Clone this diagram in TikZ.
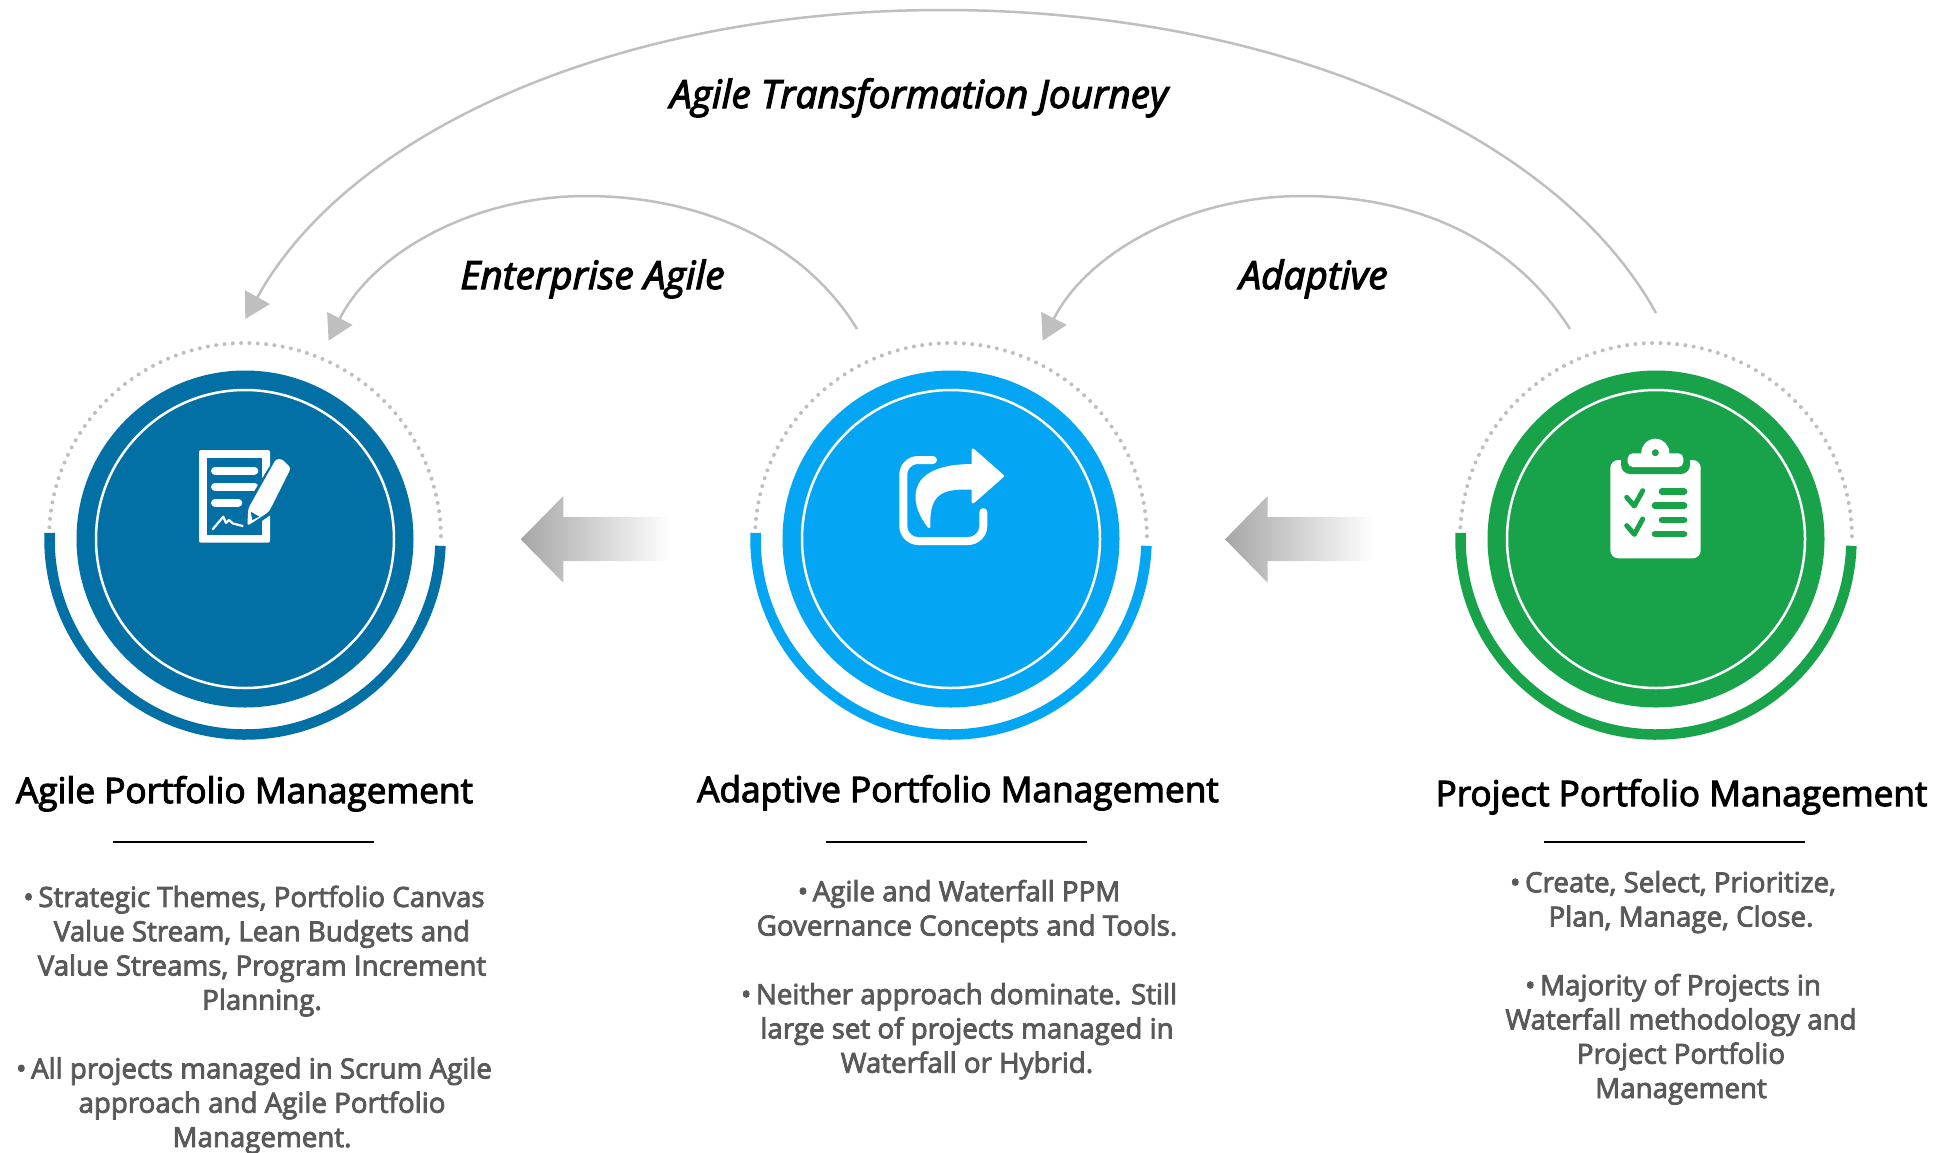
\documentclass[tikz,border=0pt]{standalone}
\usepackage{fontspec}
\usepackage{tikz}
\usetikzlibrary{positioning,arrows.meta,calc}
\newfontfamily\semifont[RawFeature={embolden=3}]{Open Sans}

\definecolor{agileblue}{HTML}{026FA5}
\definecolor{adaptblue}{HTML}{04A6F3}
\definecolor{projgreen}{HTML}{18A34B}
\definecolor{curvegray}{HTML}{BFBFBF}
\definecolor{bodygray}{HTML}{595959}

\begin{document}
\begin{tikzpicture}[
  x=1pt, y=-1pt,
  disc/.style={circle, minimum size=337pt, inner sep=0pt},
  halo/.style={circle, draw=white, line width=2.5pt, minimum size=298pt, inner sep=0pt},
  ringarc/.style={line width=10.5pt},
  dotarc/.style={curvegray, line width=4pt, line cap=round, dash pattern=on 0pt off 8.35pt},
  sweep/.style={curvegray, line width=2.5pt, -{Triangle[length=25pt,width=28pt]}},
  swlabel/.style={font=\semifont\itshape\fontsize{38.8}{44}\selectfont, inner sep=0pt, anchor=base},
  heading/.style={font=\semifont\fontsize{35.2}{40}\selectfont, inner sep=0pt, anchor=base},
  bodytext/.style={font=\semifont\fontsize{27.7}{34.3}\selectfont, text=bodygray, align=center, inner sep=0pt, anchor=base},
  rulebar/.style={fill=black, minimum width=261pt, minimum height=2pt, inner sep=0pt},
  blockarrow/.style={left color=black!35, right color=white},
  iconline/.style={white, line width=8pt, line cap=round},
  iconfill/.style={fill=white, draw=white, line join=round}
]
  \useasboundingbox (0,0) rectangle (1944,1152);

  % Discs
  \node[disc, fill=agileblue] (agile) at (245,539) {};
  \node[disc, fill=adaptblue] (adapt) at (951,539) {};
  \node[disc, fill=projgreen] (proj) at (1656,539) {};
  \node[halo] (agilein) at (agile.center) {};
  \node[halo] (adaptin) at (adapt.center) {};
  \node[halo] (projin) at (proj.center) {};

  % Rings round the discs
  \draw[dotarc] ([shift={(181:196)}]agile.center) arc[start angle=181, end angle=361, radius=196];
  \draw[dotarc] ([shift={(181:196)}]adapt.center) arc[start angle=181, end angle=361, radius=196];
  \draw[dotarc] ([shift={(181:196)}]proj.center) arc[start angle=181, end angle=361, radius=196];
  \draw[ringarc, agileblue] ([shift={(2:195.5)}]agile.center) arc[start angle=2, end angle=181.8, radius=195.5];
  \draw[ringarc, adaptblue] ([shift={(2:195.5)}]adapt.center) arc[start angle=2, end angle=181.8, radius=195.5];
  \draw[ringarc, projgreen] ([shift={(2:195.5)}]proj.center) arc[start angle=2, end angle=181.8, radius=195.5];

  % Sweeping arrows
  \coordinate (jstart) at (1656,313);
  \coordinate (jtop) at (942,10);
  \coordinate (jtip) at (245.3,319);
  \coordinate (estart) at (857,329);
  \coordinate (etop) at (586,196);
  \coordinate (etip) at (328.6,340.7);
  \coordinate (astart) at (1570,329);
  \coordinate (atop) at (1302,196);
  \coordinate (atip) at (1042.7,340.7);
  \draw[sweep] (jstart) .. controls (1555,130) and (1270,10) .. (jtop)
    .. controls (620,10) and (350,130) .. (jtip);
  \draw[sweep] (estart) .. controls (800,235) and (690,196) .. (etop)
    .. controls (475,196) and (373.6,251.7) .. (etip);
  \draw[sweep] (astart) .. controls (1510,235) and (1410,196) .. (atop)
    .. controls (1190,196) and (1087.7,251.7) .. (atip);

  \node[swlabel] (jlabel) at (919,108) {Agile Transformation Journey};
  \node[swlabel] (elabel) at (592.5,289) {Enterprise Agile};
  \node[swlabel] (alabel) at (1313.5,289) {Adaptive};

  % Block arrows between the discs
  \shade[blockarrow] (520.7,539.3) -- (563.3,496) -- (563.3,517) -- (670,517)
    -- (670,561) -- (563.3,561) -- (563.3,582.7) -- cycle;
  \shade[blockarrow] (1225,539.3) -- (1267.6,496) -- (1267.6,517) -- (1374,517)
    -- (1374,561) -- (1267.6,561) -- (1267.6,582.7) -- cycle;

  % Document icon
  \fill[white, rounded corners=2pt] (199,450) rectangle (270,542.7);
  \fill[agileblue] (207,458.3) rectangle (261.7,535);
  \draw[iconline] (215,470.7) -- (254.3,470.7);
  \draw[iconline] (215,486.7) -- (254.3,486.7);
  \draw[iconline] (215,502.7) -- (238.3,502.7);
  \draw[white, line width=2.2pt, line cap=round, line join=round]
    (212.7,529.3) -- (223.3,516.7) -- (226,523) -- (229,520) -- (233,523.5) -- (243,526);
  \draw[agileblue, fill=agileblue, line width=8pt, line join=round]
    (278.3,460) -- (290.7,470) -- (268.3,511.7) -- (247.3,526) -- (248.3,508.3) -- cycle;
  \fill[white, rounded corners=3pt] (276,459) -- (282,459) -- (291,468) -- (269,511.7)
    -- (247.3,526) -- (248.3,508.3) -- cycle;
  \fill[agileblue] (250.7,511.7) -- (259.3,516.7) -- (252.3,520) -- cycle;

  % Share icon
  \draw[white, line width=8pt, line cap=round]
    (933,460) -- (918,460) arc[start angle=270, end angle=180, radius=14.7]
    -- (903.3,526) arc[start angle=180, end angle=90, radius=15]
    -- (968,541) arc[start angle=90, end angle=0, radius=15.3] -- (983.3,512);
  \draw[iconfill, line width=3pt]
    (973,450) -- (1002.5,476) -- (973,502) -- (973,488.3)
    .. controls (945,487) and (927,490) .. (929,526.5)
    .. controls (921,516) and (917,506) .. (917,497)
    .. controls (917,472) and (945,465.5) .. (973,465.5) -- cycle;

  % Clipboard icon
  \fill[white, rounded corners=8pt] (1610.3,460) rectangle (1700.7,558.3);
  \fill[projgreen, rounded corners=9pt] (1621,440) rectangle (1690,474);
  \fill[white, rounded corners=5pt] (1627.7,453.3) rectangle (1683.3,467);
  \fill[white] (1655.3,452.7) circle[radius=14];
  \fill[projgreen] (1655.3,452.7) circle[radius=3.5];
  \draw[projgreen, line width=5pt, line cap=round, line join=round]
    (1626.7,497.3) -- (1634.3,506) -- (1642.7,490.7);
  \draw[projgreen, line width=5pt, line cap=round, line join=round]
    (1626.7,525.6) -- (1634.3,534.3) -- (1642.7,519);
  \draw[projgreen, line width=6.7pt, line cap=round] (1662,491.7) -- (1684,491.7);
  \draw[projgreen, line width=6.7pt, line cap=round] (1655,505.7) -- (1684,505.7);
  \draw[projgreen, line width=6.7pt, line cap=round] (1662,520) -- (1684,520);
  \draw[projgreen, line width=6.7pt, line cap=round] (1655,534) -- (1684,534);

  % Headings and rules
  \node[heading] (agilehead) at (244.5,803) {Agile Portfolio Management};
  \node[heading] (adapthead) at (958,802) {Adaptive Portfolio Management};
  \node[heading] (projhead) at (1681.5,806) {Project Portfolio Management};
  \node[rulebar] (agilerule) at (243,841.5) {};
  \node[rulebar] (adaptrule) at (956.7,841.5) {};
  \node[rulebar] (projrule) at (1674.5,841.5) {};

  % Body text
  \node[bodytext] (agilebody) at (262,1147) {\textbullet\,Strategic Themes, Portfolio Canvas\rule{16pt}{0pt}\\
    Value Stream, Lean Budgets and\\
    Value Streams, Program Increment\\
    Planning.\\[34.3pt]
    \textbullet\,All projects managed in Scrum Agile\rule{16pt}{0pt}\\
    approach and Agile Portfolio\\
    Management.};
  \node[bodytext] (adaptbody) at (967,1072.7) {\textbullet\,Agile and Waterfall PPM\rule{16pt}{0pt}\\
    Governance Concepts and Tools.\\[34.3pt]
    \textbullet\,Neither approach dominate. Still\rule{16pt}{0pt}\\
    large set of projects managed in\\
    Waterfall or Hybrid.};
  \node[bodytext] (projbody) at (1681,1098) {\textbullet\,Create, Select, Prioritize,\rule{16pt}{0pt}\\
    Plan, Manage, Close.\\[34.3pt]
    \textbullet\,Majority of Projects in\rule{16pt}{0pt}\\
    Waterfall methodology and\\
    Project Portfolio\\
    Management};
\end{tikzpicture}
\end{document}
